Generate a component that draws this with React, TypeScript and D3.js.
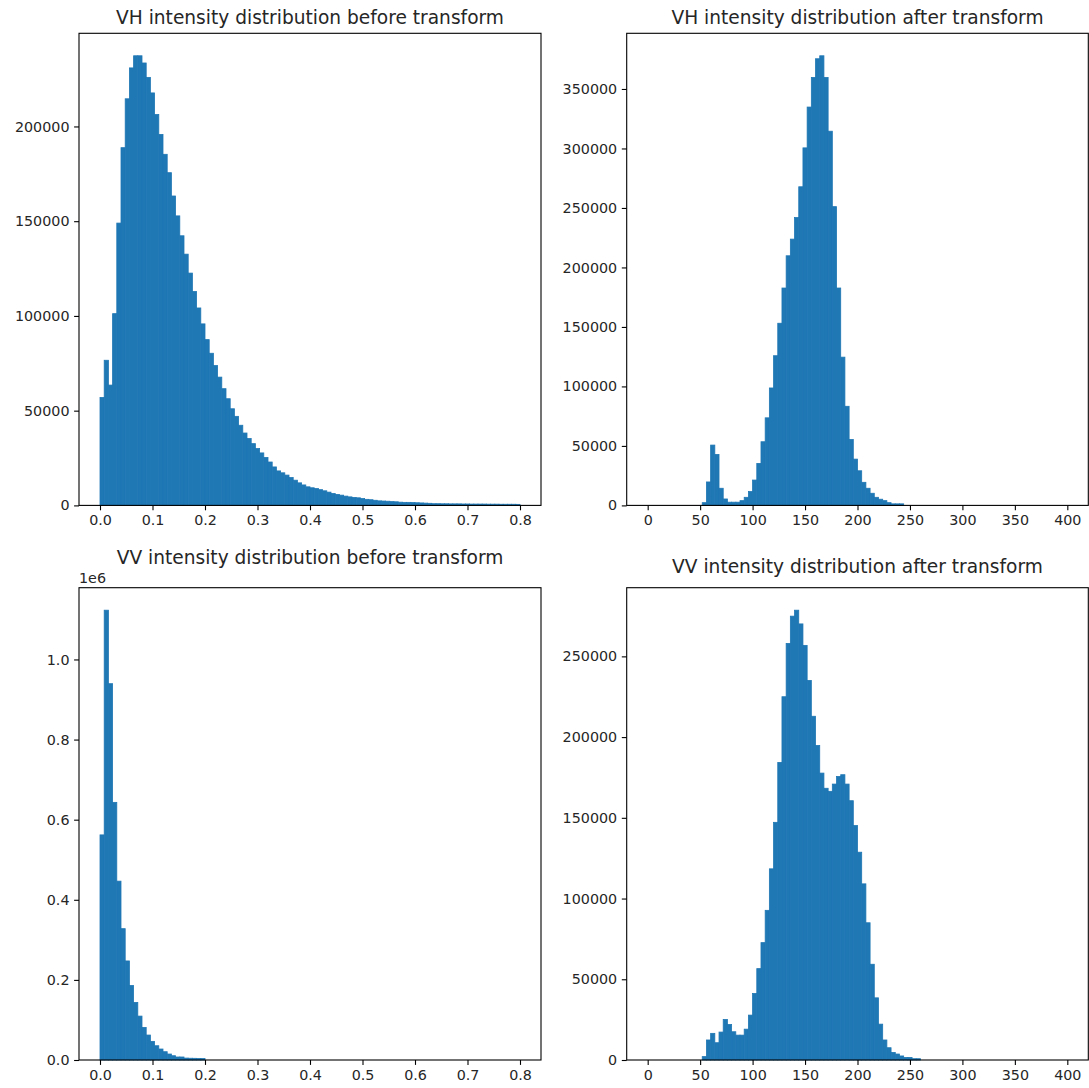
import { useEffect, useRef } from "react";
import * as d3 from "d3";

// histogram counts, 100 bins each
const VH_BEFORE = [
  57000, 76600, 63500, 101200, 149000, 188800, 214600, 230900, 237300, 237300,
  233500, 225900, 217700, 206300, 195800, 185300, 175600, 163300, 152800, 142300,
  132600, 122600, 112900, 104200, 95800, 87500, 80300, 73800, 67700, 61600,
  56300, 51000, 47000, 42300, 38200, 35300, 32600, 30000, 27700, 25300,
  22900, 20300, 18200, 17200, 16000, 14700, 13300, 11900, 10800, 9800,
  9300, 8900, 8300, 7700, 7000, 6300, 5800, 5400, 4900, 4500,
  4200, 4000, 3600, 3200, 3000, 2700, 2400, 2300, 2200, 2000,
  1900, 1700, 1600, 1600, 1500, 1400, 1300, 1200, 1100, 900,
  900, 850, 850, 800, 800, 800, 750, 750, 700, 700,
  700, 700, 650, 650, 650, 600, 600, 600, 600, 550,
];

const VH_AFTER = [
  0, 0, 0, 0, 0, 0, 0, 0, 0, 0,
  0, 0, 0, 2300, 19700, 50700, 42800, 14400, 5400, 2700,
  2700, 2700, 4000, 6800, 11600, 21300, 35300, 53500, 73600, 98700,
  125800, 153100, 182700, 209800, 223800, 241900, 267800, 300500, 334800, 359700,
  375400, 377900, 359700, 314500, 251100, 182700, 124600, 83300, 55400, 38900,
  29100, 19400, 14400, 10200, 6800, 5200, 4000, 2300, 1300, 1300,
  1300, 0, 0, 0, 0, 0, 0, 0, 0, 0,
  0, 0, 0, 0, 0, 0, 0, 0, 0, 0,
  0, 0, 0, 0, 0, 0, 0, 0, 0, 0,
  0, 0, 0, 0, 0, 0, 0, 0, 0, 0,
];

const VV_BEFORE = [
  562000, 1123000, 939500, 643200, 446500, 327900, 247300, 186000, 143700, 109600,
  81400, 62300, 46500, 35600, 27400, 20700, 14900, 10700, 7500, 7500,
  4800, 4400, 4200, 4000, 3600, 0, 0, 0, 0, 0,
  0, 0, 0, 0, 0, 0, 0, 0, 0, 0,
  0, 0, 0, 0, 0, 0, 0, 0, 0, 0,
  0, 0, 0, 0, 0, 0, 0, 0, 0, 0,
  0, 0, 0, 0, 0, 0, 0, 0, 0, 0,
  0, 0, 0, 0, 0, 0, 0, 0, 0, 0,
  0, 0, 0, 0, 0, 0, 0, 0, 0, 0,
  0, 0, 0, 0, 0, 0, 0, 0, 0, 0,
];

const VV_AFTER = [
  0, 0, 0, 0, 0, 0, 0, 0, 0, 0,
  0, 0, 0, 2100, 12400, 16500, 10700, 17300, 25100, 22000,
  17500, 15400, 15400, 19100, 27800, 41200, 56600, 72700, 92700, 118400,
  147200, 184300, 225000, 258000, 274900, 278600, 270100, 256800, 235100, 212900,
  194800, 177700, 168300, 166400, 170900, 175600, 176700, 170900, 160600, 145200,
  128700, 109100, 85000, 59300, 38500, 22200, 12400, 7600, 4700, 3700,
  2500, 1600, 1600, 800, 800, 0, 0, 0, 0, 0,
  0, 0, 0, 0, 0, 0, 0, 0, 0, 0,
  0, 0, 0, 0, 0, 0, 0, 0, 0, 0,
  0, 0, 0, 0, 0, 0, 0, 0, 0, 0,
];

const BEFORE_RANGE = [0, 0.8];
const AFTER_RANGE = [0, 400];

const BEFORE_XTICKS = [0, 0.1, 0.2, 0.3, 0.4, 0.5, 0.6, 0.7, 0.8];
const AFTER_XTICKS = [0, 50, 100, 150, 200, 250, 300, 350, 400];
const VH_BEFORE_YTICKS = [0, 50000, 100000, 150000, 200000];
const VH_AFTER_YTICKS = [0, 50000, 100000, 150000, 200000, 250000, 300000, 350000];
const VV_BEFORE_YTICKS = [0, 200000, 400000, 600000, 800000, 1000000];
const VV_AFTER_YTICKS = [0, 50000, 100000, 150000, 200000, 250000];

const TITLES = [
  "VH intensity distribution before transform",
  "VH intensity distribution after transform",
  "VV intensity distribution before transform",
  "VV intensity distribution after transform",
];

const W = 1089;
const H = 1088;
const FONT = "DejaVu Sans, sans-serif";
const TEXT = "#262626";
const BAR = "#1f77b4";

export default function App() {
  const ref = useRef(null);

  useEffect(() => {
    const svg = d3.select(ref.current);
    svg.selectAll("*").remove();

    const cols = [[79, 541], [626.7, 1088.3]];
    const rows = [[33.3, 505.4], [587.7, 1060]];

    const panels = [
      { counts: VH_BEFORE, range: BEFORE_RANGE, xt: BEFORE_XTICKS, yt: VH_BEFORE_YTICKS, c: 0, r: 0,
        xf: (d) => d.toFixed(1), yf: (d) => String(d), titleY: 23.5 },
      { counts: VH_AFTER, range: AFTER_RANGE, xt: AFTER_XTICKS, yt: VH_AFTER_YTICKS, c: 1, r: 0,
        xf: (d) => String(d), yf: (d) => String(d), titleY: 23.5 },
      { counts: VV_BEFORE, range: BEFORE_RANGE, xt: BEFORE_XTICKS, yt: VV_BEFORE_YTICKS, c: 0, r: 1,
        xf: (d) => d.toFixed(1), yf: (d) => (d / 1e6).toFixed(1), titleY: 563.5, offset: "1e6" },
      { counts: VV_AFTER, range: AFTER_RANGE, xt: AFTER_XTICKS, yt: VV_AFTER_YTICKS, c: 1, r: 1,
        xf: (d) => String(d), yf: (d) => String(d), titleY: 572.5 },
    ];

    panels.forEach((p, idx) => {
      const [left, right] = cols[p.c];
      const [top, bottom] = rows[p.r];
      const [lo, hi] = p.range;
      const pad = (hi - lo) * 0.05;
      const n = p.counts.length;
      const bw = (hi - lo) / n;

      const x = d3.scaleLinear().domain([lo - pad, hi + pad]).range([left, right]);
      const y = d3.scaleLinear().domain([0, d3.max(p.counts) * 1.05]).range([bottom, top]);

      const g = svg.append("g").attr("class", "panel");

      // bars (slight same-colour stroke hides the seams between neighbours)
      g.append("g")
        .selectAll("rect")
        .data(p.counts.map((v, i) => ({ v, a: lo + i * bw, b: lo + (i + 1) * bw })).filter((d) => d.v > 0))
        .join("rect")
        .attr("x", (d) => x(d.a))
        .attr("width", (d) => x(d.b) - x(d.a))
        .attr("y", (d) => y(d.v))
        .attr("height", (d) => y(0) - y(d.v))
        .attr("fill", BAR)
        .attr("stroke", BAR)
        .attr("stroke-width", 0.8);

      // axes
      const xAxis = g.append("g")
        .attr("transform", `translate(0,${bottom})`)
        .call(d3.axisBottom(x).tickValues(p.xt).tickFormat(p.xf).tickSize(4.9).tickSizeOuter(0).tickPadding(4.6));
      const yAxis = g.append("g")
        .attr("transform", `translate(${left},0)`)
        .call(d3.axisLeft(y).tickValues(p.yt).tickFormat(p.yf).tickSize(4.9).tickSizeOuter(0).tickPadding(4.6));

      [xAxis, yAxis].forEach((a) => {
        a.select(".domain").remove();
        a.selectAll("line").attr("stroke", "#000").attr("stroke-width", 1.1);
        a.selectAll("text")
          .attr("fill", TEXT)
          .style("font-family", FONT)
          .style("font-size", "14.3px");
      });

      // spines
      g.append("rect")
        .attr("x", left)
        .attr("y", top)
        .attr("width", right - left)
        .attr("height", bottom - top)
        .attr("fill", "none")
        .attr("stroke", "#000")
        .attr("stroke-width", 1.1);

      g.append("text")
        .attr("x", (left + right) / 2)
        .attr("y", p.titleY)
        .attr("text-anchor", "middle")
        .attr("fill", TEXT)
        .style("font-family", FONT)
        .style("font-size", "18.6px")
        .text(TITLES[idx]);

      if (p.offset) {
        g.append("text")
          .attr("x", left)
          .attr("y", top - 5)
          .attr("fill", TEXT)
          .style("font-family", FONT)
          .style("font-size", "14.3px")
          .text(p.offset);
      }
    });
  }, []);

  return (
    <svg
      ref={ref}
      width={W}
      height={H}
      style={{ position: "absolute", left: 0, top: 0, background: "#fff" }}
    />
  );
}
